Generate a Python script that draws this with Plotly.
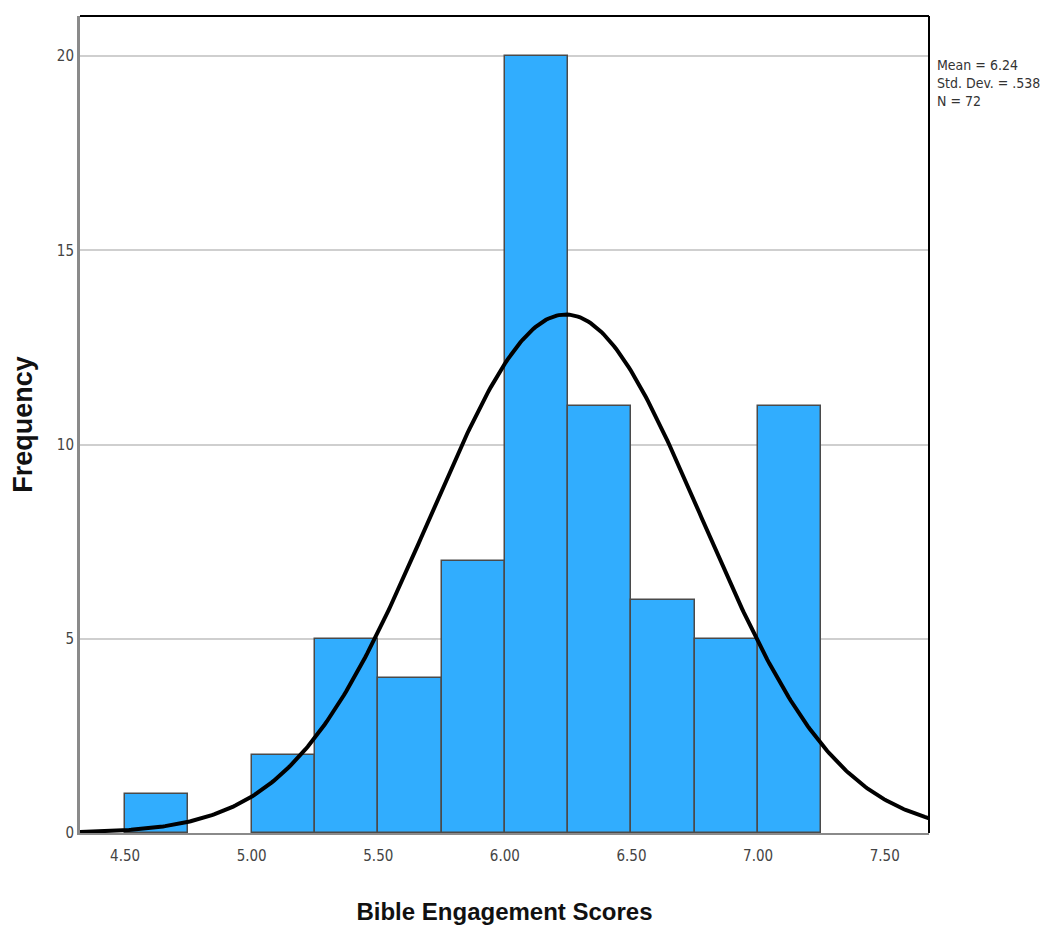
import numpy as np
import plotly.graph_objects as go

bin_starts = [4.50, 5.00, 5.25, 5.50, 5.75, 6.00, 6.25, 6.50, 6.75, 7.00]
counts = [1, 2, 5, 4, 7, 20, 11, 6, 5, 11]
bin_width = 0.25
mean_val = 6.24
sd_val = 0.538
n_val = 72
x_ticks = [4.50, 5.00, 5.50, 6.00, 6.50, 7.00, 7.50]
x_tick_labels = ["4.50", "5.00", "5.50", "6.00", "6.50", "7.00", "7.50"]
y_ticks = [0, 5, 10, 15, 20]

x_range = [4.322, 7.675]
y_range = [0, 21.03]

narrow = "DejaVu Sans Condensed, Liberation Sans Narrow, Arial Narrow, sans-serif"

fig = go.Figure()
fig.add_trace(go.Bar(
    x=[s + bin_width / 2 for s in bin_starts],
    y=counts,
    width=bin_width,
    marker=dict(color="#31ADFE", line=dict(color="#4a4a4a", width=1.5)),
    hoverinfo="x+y",
))

xs = np.linspace(x_range[0], x_range[1], 400)
ys = n_val * bin_width * np.exp(-0.5 * ((xs - mean_val) / sd_val) ** 2) / (sd_val * np.sqrt(2 * np.pi))
fig.add_trace(go.Scatter(x=xs, y=ys, mode="lines", line=dict(color="black", width=4), hoverinfo="skip"))

fig.update_layout(
    width=1055, height=926,
    margin=dict(l=80, r=126, t=16, b=93),
    paper_bgcolor="white", plot_bgcolor="white",
    showlegend=False,
    bargap=0,
    xaxis=dict(
        range=x_range, tickvals=x_ticks, ticktext=x_tick_labels,
        showgrid=False, zeroline=False, automargin=False,
        showline=True, linecolor="#8a8a8a", linewidth=2,
        ticks="", ticklen=0, ticklabelstandoff=8,
        tickfont=dict(family=narrow, size=15, color="#444"),
        title=dict(text="<b>Bible Engagement Scores</b>",
                   font=dict(family="Liberation Sans, Arial, sans-serif", size=24, color="#111"), standoff=39),
    ),
    yaxis=dict(
        range=y_range, tickvals=y_ticks,
        showgrid=True, gridcolor="#cfcfcf", gridwidth=2, zeroline=False, automargin=False,
        showline=True, linecolor="#8a8a8a", linewidth=3,
        ticks="", tickfont=dict(family=narrow, size=15, color="#444"),
        title=dict(text="<b>Frequency</b>",
                   font=dict(family="Liberation Sans, Arial, sans-serif", size=27, color="#111"), standoff=17),
    ),
    shapes=[
        dict(type="line", xref="paper", yref="paper", x0=0, x1=1, y0=1, y1=1, line=dict(color="black", width=2)),
        dict(type="line", xref="paper", yref="paper", x0=1, x1=1, y0=0, y1=1, line=dict(color="black", width=2)),
    ],
    annotations=[
        dict(xref="paper", yref="paper", x=1, y=0.952, xanchor="left", yanchor="top", xshift=6,
             align="left", showarrow=False,
             text=f"Mean = {mean_val:.2f}<br>Std. Dev. = {str(sd_val)[1:]}<br>N = {n_val}",
             font=dict(family=narrow, size=14, color="#333")),
    ],
)

fig.write_html("out.html")
